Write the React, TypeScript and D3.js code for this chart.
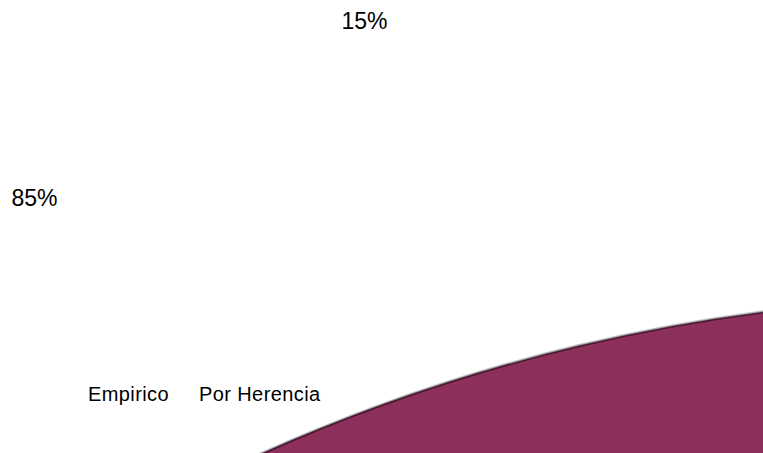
import React from "react";
import * as d3 from "d3";

const categories = ["Empirico", "Por Herencia"];
const values = [85, 15];
const percentLabels = ["85%", "15%"];

const W = 763;
const H = 453;

export default function App() {
  const pie = d3.pie<number>().sort(null).startAngle(0).endAngle(2 * Math.PI);
  const arcs = pie(values);
  const cx = 993;
  const cy = 2087;
  const r = 1789;
  const arcGen = d3.arc<d3.PieArcDatum<number>>().innerRadius(0).outerRadius(r);
  const colors = ["#8D2F5B", "#8D2F5B"];
  const font = "'Liberation Sans', Arial, sans-serif";
  return (
    <div style={{ position: "fixed", left: 0, top: 0 }}>
      <svg width={W} height={H} style={{ display: "block", background: "#fff" }}>
        <g transform={`translate(${cx},${cy - 2.6})`}>
          {arcs.map((a, i) => (
            <path key={"l" + i} d={arcGen(a) || ""} fill="#c4c4c4" />
          ))}
        </g>
        <g transform={`translate(${cx},${cy - 1.6})`}>
          {arcs.map((a, i) => (
            <path key={"g" + i} d={arcGen(a) || ""} fill="#8a8a8a" />
          ))}
        </g>
        <g transform={`translate(${cx},${cy})`}>
          {arcs.map((a, i) => (
            <path key={i} d={arcGen(a) || ""} fill={colors[i]} stroke="#4a1733" strokeWidth={1.6} />
          ))}
        </g>
        <text x={364.5} y={29} fontFamily={font} fontSize={23} textAnchor="middle" fill="#000">{percentLabels[1]}</text>
        <text x={34.5} y={205.5} fontFamily={font} fontSize={23} textAnchor="middle" fill="#000">{percentLabels[0]}</text>
        <text x={88} y={401} fontFamily={font} fontSize={20} letterSpacing={0.4} fill="#000">{categories[0]}</text>
        <text x={199} y={401} fontFamily={font} fontSize={20} letterSpacing={0.4} fill="#000">{categories[1]}</text>
      </svg>
    </div>
  );
}
